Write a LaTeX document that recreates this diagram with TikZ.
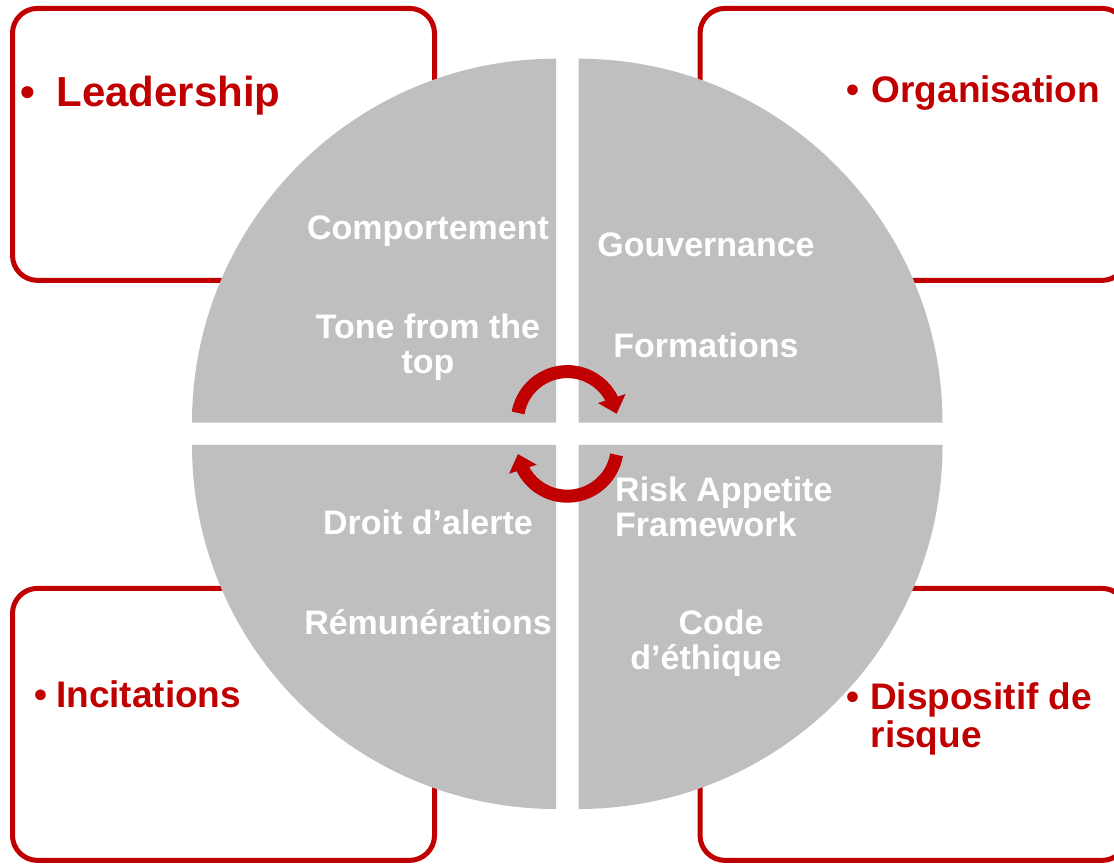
\documentclass[tikz,border=0pt]{standalone}
\usepackage{fontspec}
\setmainfont{Liberation Sans}
\usetikzlibrary{arrows.meta,bending}
\definecolor{darkred}{HTML}{C00000}
\definecolor{quadgrey}{HTML}{BFBFBF}

\begin{document}
\begin{tikzpicture}[x = 1pt, y = 1pt,
    box/.style = {draw=darkred, line width=5pt, rounded corners=25pt, minimum width=422pt, minimum height=272pt, inner sep=0pt},
    boxlabel/.style = {anchor=base west, inner sep=0pt, text=darkred, font=\bfseries\fontsize{37}{38}\selectfont, align=left},
    item/.style = {anchor=base, inner sep=0pt, text=white, font=\bfseries\fontsize{34}{35}\selectfont, align=center},
    quad/.style = {fill=quadgrey},
    turn/.style = {darkred, line width=13pt, -{Triangle[length=16pt, width=28pt]}}]
    \useasboundingbox (0,0) rectangle (1114,865);
    % frames
    \node[box] (lead) at (223.5,720.6) {};
    \node[box, minimum width=427pt] (org) at (913.5,720.6) {};
    \node[box] (inc) at (223.5,140.6) {};
    \node[box, minimum width=427pt] (risk) at (913.5,140.6) {};
    % quarters
    \fill[quad] (556,442.3) -- ++(-364,0) arc (180:90:364pt) -- cycle;
    \fill[quad] (578.5,442.3) -- ++(0,364) arc (90:0:364pt) -- cycle;
    \fill[quad] (556,420) -- ++(-364,0) arc (180:270:364pt) -- cycle;
    \fill[quad] (578.5,420) -- ++(0,-364) arc (270:360:364pt) -- cycle;
    % frame titles
    \node[boxlabel, font=\bfseries\fontsize{42}{44}\selectfont] (leadtxt) at (20.6,758) {•\hspace{21pt}Leadership};
    \node[boxlabel] (orgtxt) at (846.5,762) {•\hspace{12pt}Organisation};
    \node[boxlabel] (inctxt) at (34,157) {•\hspace{9pt}Incitations};
    \node[boxlabel] (risktxt) at (846.5,117) {•\hspace{10.5pt}Dispositif de\\\hspace*{24pt}risque};
    % quarter items
    \node[item] (behav) at (428,625) {Comportement};
    \node[item] (tone) at (428,491) {Tone from the\\top};
    \node[item] (gov) at (706,608) {Gouvernance};
    \node[item] (train) at (706,507) {Formations};
    \node[item, anchor=base west, align=left] (raf) at (615,328) {Risk Appetite\\Framework};
    \node[item] (alert) at (428,330) {Droit d’alerte};
    \node[item] (pay) at (428,230) {Rémunérations};
    \node[item] (ethic) at (706,195) {\hspace*{30pt}Code\\d’éthique};
    % turning arrows
    \coordinate (topturn) at (567.3,443.4);
    \coordinate (botturn) at (567.3,418.8);
    \draw[turn] ([shift={(170:50pt)}]topturn) arc (170:9:50pt);
    \draw[turn] ([shift={(-10:50pt)}]botturn) arc (-10:-171:50pt);
\end{tikzpicture}
\end{document}
